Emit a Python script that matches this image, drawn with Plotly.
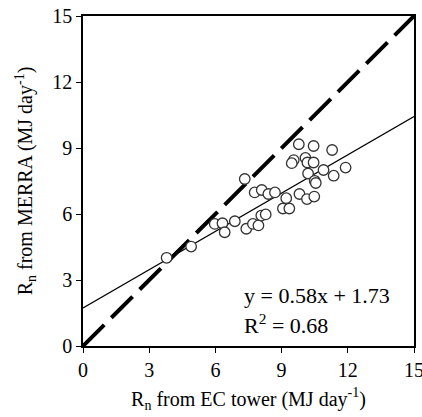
import plotly.graph_objects as go

ec_tower = [3.79, 4.90, 5.97, 6.32, 6.42, 6.88, 7.33, 7.40, 7.70, 7.95, 7.78, 8.10, 8.40, 8.70,
            8.08, 8.28, 9.21, 9.81, 10.15, 10.48, 9.06, 9.35, 9.78, 10.45, 11.29, 9.55,
            9.46, 10.08, 10.17, 10.45, 11.90, 10.90, 10.20, 11.36, 10.50, 10.55]
merra = [4.01, 4.52, 5.55, 5.58, 5.17, 5.67, 7.59, 5.33, 5.55, 5.48, 6.98, 7.09, 6.91, 6.98,
         5.93, 5.98, 6.72, 6.91, 6.68, 6.79, 6.25, 6.25, 9.17, 9.09, 8.91, 8.45,
         8.31, 8.55, 8.34, 8.34, 8.11, 8.00, 7.84, 7.74, 7.51, 7.41]
slope, intercept = 0.58, 1.73
r2 = 0.68
ticks = [0, 3, 6, 9, 12, 15]
FONT = "Liberation Serif, Times New Roman, serif"

fig = go.Figure()
fig.add_trace(go.Scatter(x=[0, 15], y=[0, 15], mode="lines",
                         line=dict(color="black", width=4, dash="30px,10px"),
                         showlegend=False, hoverinfo="skip"))
fig.add_trace(go.Scatter(x=[0, 15], y=[intercept, intercept + slope * 15], mode="lines",
                         line=dict(color="black", width=1.3), showlegend=False))
fig.add_trace(go.Scatter(x=ec_tower, y=merra, mode="markers",
                         marker=dict(size=10.5, color="white", line=dict(color="#333", width=1.3)),
                         showlegend=False))

fig.add_annotation(x=7.2, y=2.3, xref="x", yref="y", showarrow=False,
                   text=f"y = {slope}x + {intercept}", font=dict(family=FONT, size=22, color="black"),
                   xanchor="left", yanchor="middle")
fig.add_annotation(x=7.2, y=1.0, xref="x", yref="y", showarrow=False,
                   text=f"R<sup>2</sup> = {r2}", font=dict(family=FONT, size=22, color="black"),
                   xanchor="left", yanchor="middle")

axis_common = dict(range=[0, 15], tickvals=ticks, ticktext=[str(t) for t in ticks],
                   showgrid=False, zeroline=False, showline=True, linecolor="black",
                   linewidth=1.5, mirror=True, ticks="outside", ticklen=5, tickwidth=1,
                   tickcolor="black", tickfont=dict(family=FONT, size=20, color="black"),
                   automargin=False, ticklabeloverflow="allow")

fig.update_layout(
    width=422, height=417,
    margin=dict(l=83, r=8, t=16, b=71),
    plot_bgcolor="white", paper_bgcolor="white",
    xaxis=dict(**axis_common,
               title=dict(text="R<sub>n</sub> from EC tower (MJ day<sup>-1</sup>)",
                          font=dict(family=FONT, size=20, color="black"), standoff=12)),
    yaxis=dict(**axis_common,
               title=dict(text="R<sub>n</sub> from MERRA (MJ day<sup>-1</sup>)",
                          font=dict(family=FONT, size=20, color="black"), standoff=14)),
)
fig.write_html("out.html")
